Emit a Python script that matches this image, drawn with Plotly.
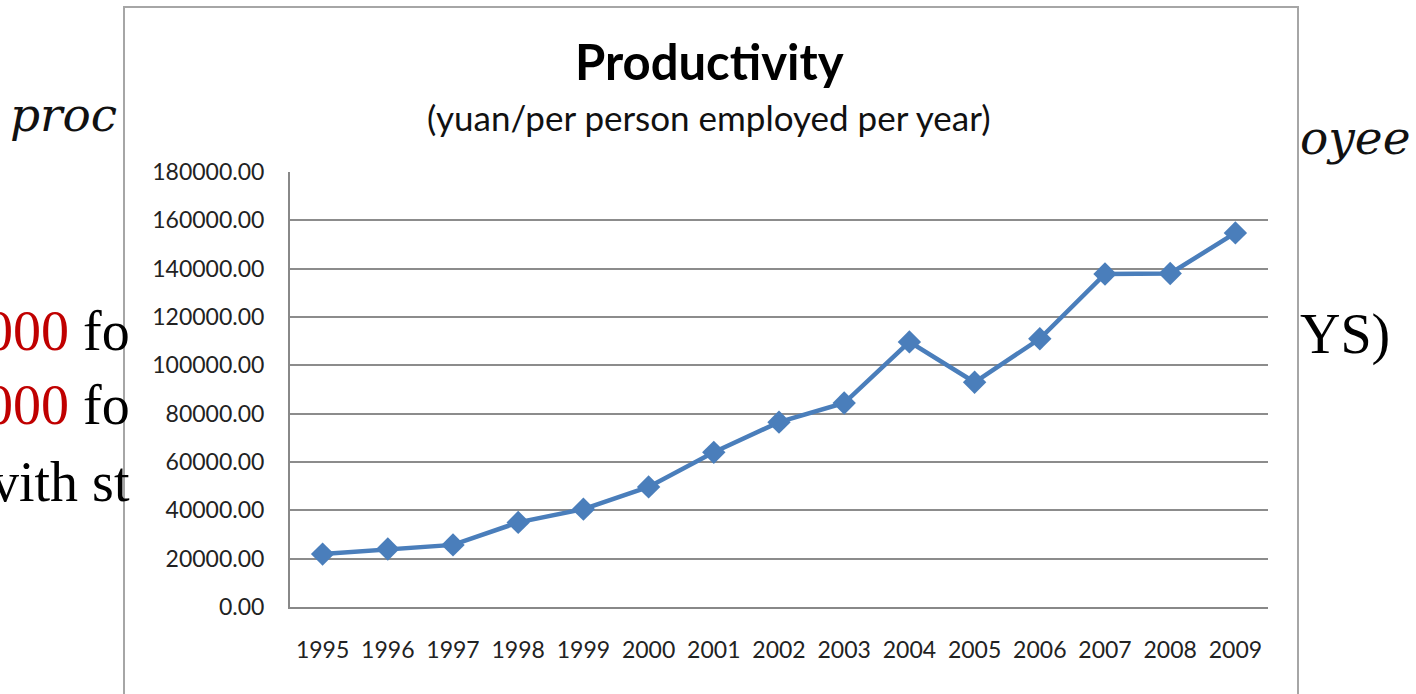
import plotly.graph_objects as go

# Labour productivity series
years = ["1995", "1996", "1997", "1998", "1999", "2000", "2001", "2002",
         "2003", "2004", "2005", "2006", "2007", "2008", "2009"]
productivity = [21900, 24000, 25700, 35000, 40500, 49700, 64000, 76500,
                84400, 109700, 93000, 111000, 137800, 138000, 154800]

title_text = "Productivity"
subtitle_text = "(yuan/per person employed per year)"

W, H = 1416, 694
L, R, T, B = 290, 148, 172, 87
PW, PH = W - L - R, H - T - B


def px(x):
    return (x - L) / PW


def py(y):
    return (H - B - y) / PH


fig = go.Figure()
fig.add_trace(go.Scatter(
    x=years, y=productivity, mode="lines+markers",
    line=dict(color="#4a7ebb", width=4.5),
    marker=dict(symbol="diamond", size=18, color="#4a7ebb"),
    showlegend=False, hoverinfo="x+y",
))

# white chart frame over the slide
fig.add_shape(type="rect", xref="paper", yref="paper",
              x0=px(124), x1=px(1298), y0=py(700), y1=py(7),
              fillcolor="white", line=dict(color="#a6a6a6", width=2),
              layer="below")

serif = "Liberation Serif"
ann = []
# slide text showing around the chart frame
ann.append(dict(x=px(8), y=py(114), text="<i>proc</i>", xanchor="left",
                yanchor="middle", font=dict(family="DejaVu Serif", size=47, color="#111")))
ann.append(dict(x=px(1298), y=py(138), text="<i>oyee</i>", xanchor="left",
                yanchor="middle", font=dict(family="DejaVu Serif", size=47, color="#111")))
for yy, txt in [(331, "<span style='color:#c00000'>000</span> fo"),
                (405, "<span style='color:#c00000'>000</span> fo"),
                (482, "vith st")]:
    ann.append(dict(x=px(132), y=py(yy), text=txt, xanchor="right",
                    yanchor="middle", font=dict(family=serif, size=56, color="black")))
ann.append(dict(x=px(1298), y=py(334), text="YS)", xanchor="left",
                yanchor="middle", font=dict(family=serif, size=56, color="black")))

ann.append(dict(x=px(709), y=py(61), text="<b>" + title_text + "</b>",
                xanchor="center", yanchor="middle",
                font=dict(family="Lato", size=49, color="black")))
ann.append(dict(x=px(709), y=py(117), text=subtitle_text,
                xanchor="center", yanchor="middle",
                font=dict(family="Lato", size=35, color="#111")))
for a in ann:
    a.update(xref="paper", yref="paper", showarrow=False)
fig.update_layout(annotations=ann)

fig.update_layout(
    width=W, height=H,
    margin=dict(l=L, r=R, t=T, b=B, pad=0),
    paper_bgcolor="white", plot_bgcolor="white",
    font=dict(family="Lato", size=22, color="#222"),
)
fig.update_xaxes(type="category", range=[-0.5, 14.5], showgrid=False,
                 showline=True, linecolor="#888", linewidth=2,
                 ticks="", ticklabelstandoff=21,
                 tickfont=dict(family="Lato", size=23, color="#222"))
fig.update_yaxes(range=[0, 180000], dtick=20000, tickformat=".2f",
                 showgrid=True, gridcolor="#8c8c8c", gridwidth=1.5,
                 showline=True, linecolor="#888", linewidth=2,
                 zeroline=False, ticks="", ticklabelstandoff=19,
                 tickfont=dict(family="Lato", size=23, color="#222"))

fig.write_html("out.html")
